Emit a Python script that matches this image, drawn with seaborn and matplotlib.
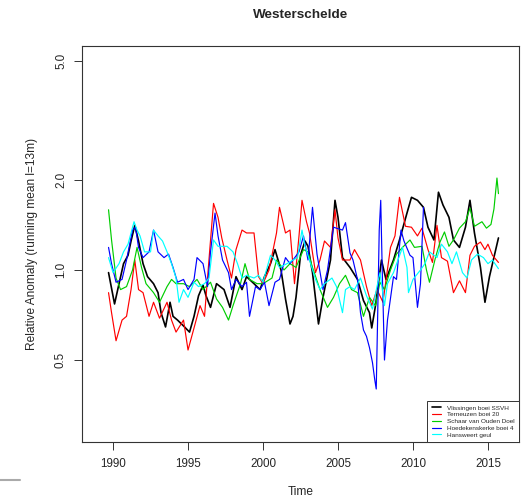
import matplotlib
matplotlib.use("Agg")
import matplotlib.pyplot as plt
from matplotlib.lines import Line2D
import seaborn as sns
import pandas as pd

# --- data (decimal year, relative anomaly) ---
vliss_t = [1989.7, 1990.1, 1990.4, 1990.7, 1991.0, 1991.2, 1991.45, 1991.7, 1992.0, 1992.3,
           1992.7, 1993.0, 1993.2, 1993.5, 1993.8, 1994.0, 1994.3, 1994.7, 1995.1, 1995.4,
           1995.7, 1996.0, 1996.2, 1996.5, 1996.9, 1997.4, 1997.8, 1998.2, 1998.6, 1998.9,
           1999.4, 1999.8, 2000.1, 2000.5, 2000.8, 2001.2, 2001.5, 2001.8, 2002.0, 2002.2,
           2002.5, 2002.8, 2003.0, 2003.3, 2003.7, 2004.0, 2004.5, 2004.8, 2005.0, 2005.3,
           2005.8, 2006.3, 2006.7, 2007.1, 2007.25, 2007.5, 2007.9, 2008.2, 2008.7, 2009.1,
           2009.6, 2009.9, 2010.3, 2010.7, 2011.0, 2011.4, 2011.7, 2012.0, 2012.4, 2012.7,
           2013.1, 2013.5, 2013.8, 2014.1, 2014.5, 2014.8, 2015.1, 2015.3, 2015.7]
vliss_v = [0.98, 0.77, 0.90, 1.05, 1.12, 1.25, 1.41, 1.25, 1.05, 0.95,
           0.90, 0.84, 0.72, 0.645, 0.78, 0.70, 0.68, 0.65, 0.62, 0.70,
           0.82, 0.89, 0.82, 0.75, 0.90, 0.86, 0.75, 0.95, 0.86, 0.95,
           0.90, 0.86, 0.95, 1.05, 1.17, 1.00, 0.80, 0.66, 0.70, 0.81,
           1.12, 1.25, 1.20, 0.98, 0.66, 0.81, 1.08, 1.71, 1.50, 1.10,
           1.02, 0.93, 0.79, 0.72, 0.64, 0.76, 1.08, 0.93, 1.08, 1.26,
           1.55, 1.75, 1.71, 1.62, 1.39, 1.26, 1.82, 1.65, 1.50, 1.26,
           1.19, 1.39, 1.71, 1.33, 1.02, 0.78, 0.95, 1.05, 1.28]

tern_t = [1989.7, 1989.9, 1990.2, 1990.6, 1990.9, 1991.2, 1991.45, 1991.7, 1992.0, 1992.4,
          1992.7, 1993.1, 1993.6, 1993.9, 1994.2, 1994.7, 1995.0, 1995.4, 1995.8, 1996.1,
          1996.45, 1996.7, 1997.0, 1997.25, 1997.6, 1997.9, 1998.2, 1998.6, 1998.9, 1999.4,
          1999.7, 2000.0, 2000.4, 2000.9, 2001.1, 2001.5, 2001.8, 2002.1, 2002.4, 2002.6,
          2002.9, 2003.1, 2003.5, 2003.8, 2004.1, 2004.5, 2004.8, 2005.0, 2005.3, 2005.8,
          2006.1, 2006.5, 2006.9, 2007.25, 2007.6, 2008.0, 2008.5, 2008.8, 2009.1, 2009.5,
          2009.9, 2010.3, 2010.6, 2011.0, 2011.3, 2011.6, 2011.9, 2012.3, 2012.7, 2013.1,
          2013.5, 2013.8, 2014.1, 2014.5, 2014.8, 2015.0, 2015.3, 2015.7]
tern_v = [0.84, 0.72, 0.58, 0.68, 0.70, 0.86, 1.08, 0.86, 0.84, 0.70,
          0.78, 0.69, 0.78, 0.68, 0.62, 0.68, 0.54, 0.64, 0.76, 0.70,
          1.17, 1.67, 1.50, 1.28, 1.08, 0.94, 1.17, 1.36, 1.33, 1.33,
          0.95, 0.90, 1.00, 1.33, 1.62, 1.33, 1.36, 0.90, 1.30, 1.71,
          1.45, 1.33, 0.98, 1.08, 1.25, 1.19, 1.59, 1.28, 1.08, 1.08,
          1.17, 1.08, 0.88, 0.76, 0.86, 0.78, 1.19, 1.30, 1.75, 1.40,
          1.39, 1.30, 1.38, 1.17, 1.06, 1.41, 1.10, 1.07, 0.84, 0.92,
          0.84, 1.12, 1.20, 1.24, 1.17, 1.22, 1.12, 1.06]

schaar_t = [1989.7, 1989.9, 1990.2, 1990.5, 1990.9, 1991.3, 1991.6, 1991.9, 1992.2, 1992.7,
            1993.1, 1993.6, 1993.9, 1994.2, 1994.7, 1995.1, 1995.6, 1996.0, 1996.5, 1996.9,
            1997.3, 1997.7, 1998.0, 1998.5, 1998.8, 1999.1, 1999.6, 2000.0, 2000.6, 2000.9,
            2001.4, 2001.8, 2002.2, 2002.7, 2003.0, 2003.3, 2003.8, 2004.3, 2004.7, 2005.1,
            2005.5, 2005.9, 2006.3, 2006.7, 2007.1, 2007.5, 2007.8, 2008.1, 2008.5, 2008.9,
            2009.3, 2009.8, 2010.1, 2010.6, 2010.9, 2011.1, 2011.5, 2011.8, 2012.1, 2012.4,
            2012.7, 2013.1, 2013.5, 2013.8, 2014.1, 2014.6, 2014.9, 2015.2, 2015.4, 2015.6,
            2015.7]
schaar_v = [1.59, 1.26, 0.94, 0.86, 0.88, 1.00, 1.19, 1.02, 0.90, 0.84,
            0.78, 0.88, 0.93, 0.90, 0.90, 0.88, 0.93, 0.86, 0.91, 0.80,
            0.75, 0.68, 0.76, 0.90, 1.05, 0.93, 0.90, 0.90, 0.94, 1.08,
            1.00, 1.05, 1.02, 1.17, 1.15, 1.02, 0.86, 0.75, 0.81, 0.90,
            0.96, 0.86, 0.84, 0.70, 0.81, 0.76, 0.91, 0.86, 1.00, 1.13,
            1.19, 1.26, 1.19, 1.20, 1.00, 0.91, 1.10, 1.24, 1.34, 1.20,
            1.26, 1.38, 1.45, 1.61, 1.40, 1.45, 1.38, 1.42, 1.60, 2.03,
            1.80]

hoed_t = [1989.7, 1989.9, 1990.2, 1990.6, 1990.9, 1991.3, 1991.5, 1991.7, 1992.0, 1992.4,
          1992.7, 1993.0, 1993.4, 1993.7, 1994.0, 1994.3, 1994.7, 1995.0, 1995.4, 1995.6,
          1996.0, 1996.3, 1996.5, 1996.8, 1997.0, 1997.3, 1997.7, 1997.9, 1998.2, 1998.6,
          1998.9, 1999.1, 1999.5, 1999.8, 2000.1, 2000.4, 2000.8, 2001.1, 2001.5, 2001.8,
          2002.0, 2002.4, 2002.7, 2003.0, 2003.3, 2003.6, 2004.0, 2004.3, 2004.7, 2005.3,
          2005.5, 2005.8, 2006.0, 2006.3, 2006.5, 2006.7, 2006.9, 2007.1, 2007.3, 2007.45,
          2007.55, 2007.65, 2007.75, 2007.85, 2007.95, 2008.1, 2008.3, 2008.7, 2008.9, 2009.2,
          2009.4, 2009.8, 2010.0, 2010.3, 2010.5, 2010.7]
hoed_v = [1.19, 1.05, 0.91, 0.93, 1.08, 1.36, 1.39, 1.19, 1.10, 1.15,
          1.36, 1.15, 1.10, 1.13, 1.02, 0.91, 0.93, 0.86, 0.93, 1.10,
          1.05, 0.88, 1.15, 1.55, 1.30, 1.08, 0.98, 0.86, 0.93, 0.88,
          0.91, 0.70, 0.88, 0.86, 0.91, 0.76, 0.91, 0.93, 1.10, 1.05,
          1.08, 1.15, 1.30, 1.08, 1.62, 1.13, 0.86, 1.00, 1.39, 1.36,
          1.44, 1.14, 1.08, 0.93, 0.72, 0.63, 0.60, 0.55, 0.49, 0.43,
          0.40, 0.72, 1.36, 1.71, 1.00, 0.50, 0.68, 0.95, 0.93, 1.36,
          1.25, 1.12, 1.10, 0.75, 0.90, 1.62]

hans_t = [1989.7, 1990.0, 1990.4, 1990.7, 1991.0, 1991.4, 1991.6, 1991.8, 1992.1, 1992.5,
          1992.7, 1993.0, 1993.3, 1993.6, 1993.9, 1994.2, 1994.4, 1994.7, 1995.0, 1995.4,
          1995.7, 1996.1, 1996.4, 1996.7, 1997.0, 1997.3, 1997.6, 1998.0, 1998.3, 1998.6,
          1998.9, 1999.4, 1999.7, 2000.0, 2000.5, 2000.8, 2001.1, 2001.6, 2002.0, 2002.3,
          2002.6, 2002.8, 2003.1, 2003.5, 2003.8, 2004.1, 2004.6, 2004.9, 2005.3, 2005.5,
          2005.8, 2006.1, 2006.5, 2006.9, 2007.3, 2007.6, 2007.8, 2008.1, 2008.3, 2008.7,
          2009.0, 2009.3, 2009.6, 2009.7, 2010.0, 2010.5, 2010.8, 2011.1, 2011.6, 2011.9,
          2012.3, 2012.6, 2012.9, 2013.3, 2013.6, 2013.9, 2014.3, 2014.7, 2015.0, 2015.3,
          2015.7]
hans_v = [1.10, 0.98, 1.05, 1.15, 1.22, 1.45, 1.36, 1.30, 1.15, 1.15,
          1.36, 1.30, 1.25, 1.15, 1.05, 0.94, 0.78, 0.86, 0.81, 0.91,
          0.88, 0.90, 0.94, 1.26, 1.20, 1.20, 1.20, 1.15, 1.05, 0.94,
          0.96, 0.94, 0.96, 0.91, 1.12, 1.08, 1.02, 1.05, 1.08, 1.10,
          1.36, 1.20, 1.08, 0.93, 0.86, 0.90, 0.94, 0.88, 0.72, 0.86,
          0.88, 0.86, 0.94, 0.82, 0.74, 0.88, 0.98, 0.76, 0.90, 0.98,
          1.08, 1.19, 1.02, 0.84, 0.93, 1.00, 1.05, 1.15, 1.10, 1.22,
          1.15, 1.05, 1.15, 0.98, 0.94, 1.08, 1.13, 1.10, 1.05, 1.08,
          1.01]

series = [
    ("Vlissingen boei SSVH", vliss_t, vliss_v, "black", 1.2),
    ("Terneuzen boei 20", tern_t, tern_v, "#ff0000", 0.85),
    ("Schaar van Ouden Doel", schaar_t, schaar_v, "#00cd00", 0.85),
    ("Hoedekenskerke boei 4", hoed_t, hoed_v, "#0000ff", 0.85),
    ("Hansweert geul", hans_t, hans_v, "#00ffff", 0.85),
]

sns.set_style("ticks")
plt.rcParams["font.family"] = ["Liberation Sans", "DejaVu Sans"]

fig = plt.figure(figsize=(5.27, 5.04), dpi=100)
ax = fig.add_axes([82 / 527, 1 - 442 / 504, 437 / 527, 396 / 504])

for name, t, v, col, lw in series:
    df = pd.DataFrame({"Time": t, "value": v})
    sns.lineplot(data=df, x="Time", y="value", ax=ax, color=col, linewidth=lw,
                 sort=False, estimator=None, label=name)

ax.set_yscale("log")
ax.set_xlim(1987.93, 2017.07)
ax.set_ylim(0.266, 5.61)
ax.set_xticks([1990, 1995, 2000, 2005, 2010, 2015])
ax.set_yticks([0.5, 1.0, 2.0, 5.0])
ax.set_yticklabels(["0.5", "1.0", "2.0", "5.0"], rotation=90, va="center")
ax.minorticks_off()
ax.tick_params(axis="both", length=5.8, width=0.7, color="#333333", labelsize=8.4)
ax.tick_params(axis="x", pad=5.5)
ax.tick_params(axis="y", pad=5.0)
for sp in ax.spines.values():
    sp.set_visible(True)
    sp.set_linewidth(0.8)
    sp.set_color("#333333")

ax.set_xlabel("Time", fontsize=8.6, labelpad=12)
ax.set_ylabel("Relative Anomaly (running mean l=13m)", fontsize=8.6)
ax.yaxis.set_label_coords(-0.10, 0.5)
fig.text(300.5 / 527, 1 - 15 / 504, "Westerschelde", ha="center", va="center",
         fontsize=9.7, fontweight="bold")

leg = ax.legend(loc="lower right", bbox_to_anchor=(1, 0), borderaxespad=0,
                fontsize=4.6, handlelength=1.4, labelspacing=0.2, borderpad=0.7,
                handletextpad=1.0, fancybox=False, framealpha=1)
leg.get_frame().set_edgecolor("#333333")
leg.get_frame().set_linewidth(0.7)

# small grey stub at the bottom left of the reference image
fig.add_artist(Line2D([0, 20 / 527], [1 - 480 / 504] * 2, color="#aaaaaa", linewidth=1.5))

fig.savefig("out.png", dpi=100)
